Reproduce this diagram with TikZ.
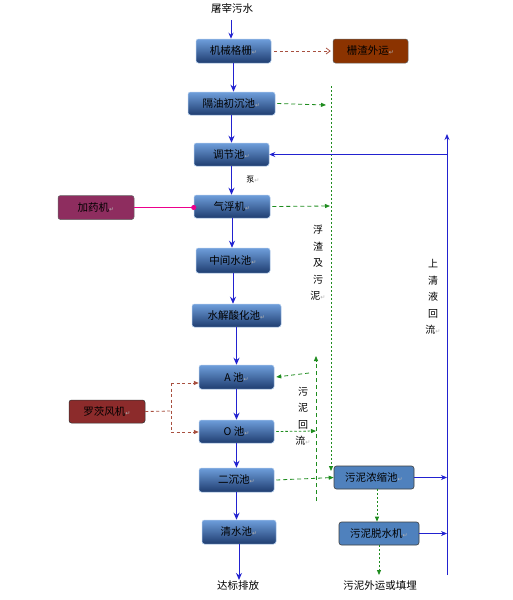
\documentclass[tikz,border=0pt]{standalone}
\usepackage{fontspec}
\setmainfont{Noto Sans CJK SC}
\newfontfamily\dvs{DejaVu Sans}
\usetikzlibrary{arrows.meta}
\definecolor{gboxtop}{HTML}{6E9EDB}
\definecolor{gboxbot}{HTML}{1F3D70}
\definecolor{gline}{HTML}{1E8C1E}
\definecolor{bline}{HTML}{2222D0}
\definecolor{brline}{HTML}{A85040}
\definecolor{flatblue}{HTML}{4F81BD}
\newcommand{\pmk}{{\dvs\color{black!30}\fontsize{6}{6}\selectfont ↵}}
\tikzset{
  mbox/.style={rectangle, rounded corners=2.5pt, top color=gboxtop, bottom color=gboxbot,
    draw=gboxtop!60!white, line width=0.5pt, inner sep=0pt, font=\fontsize{10.5}{12}\selectfont},
  fbox/.style={rectangle, rounded corners=2.5pt, fill=flatblue, draw=black!75, line width=0.6pt,
    inner sep=0pt, font=\fontsize{10.5}{12}\selectfont},
  sbox/.style={rectangle, rounded corners=2.5pt, draw=black!60, line width=0.5pt,
    inner sep=0pt, font=\fontsize{10.5}{12}\selectfont},
  lbl/.style={font=\fontsize{10.5}{12}\selectfont, inner sep=1pt},
  vlbl/.style={font=\fontsize{10}{16.5}\selectfont, align=center, inner sep=0pt},
  flow/.style={draw=bline, line width=0.9pt, -{Stealth[length=7pt,width=6pt]}},
  bflow/.style={draw=bline, line width=0.8pt, -{Stealth[length=6pt,width=5pt]}},
  gdash/.style={draw=gline, line width=0.8pt, dash pattern=on 4pt off 3pt, -{Triangle[length=5pt,width=4pt]}},
  gdot/.style={draw=gline, line width=0.8pt, dash pattern=on 2pt off 2pt},
  brdash/.style={draw=brline, line width=0.8pt, dash pattern=on 3pt off 2.5pt},
}
\begin{document}
\begin{tikzpicture}[x=1pt,y=-1pt]
\useasboundingbox[fill=white] (0,0) rectangle (512,600);
% main chain
\node[mbox, minimum width=75pt, minimum height=24pt] (n1) at (233.5,51) {机械格栅\pmk};
\node[mbox, minimum width=87pt, minimum height=23pt] (n2) at (231.5,103.5) {隔油初沉池\pmk};
\node[mbox, minimum width=75pt, minimum height=23pt] (n3) at (231.5,154.5) {调节池\pmk};
\node[mbox, minimum width=76pt, minimum height=23pt] (n4) at (232,206.5) {气浮机\pmk};
\node[mbox, minimum width=74pt, minimum height=25pt] (n5) at (233,260.5) {中间水池\pmk};
\node[mbox, minimum width=89pt, minimum height=23pt] (n6) at (236.5,315.5) {水解酸化池\pmk};
\node[mbox, minimum width=75pt, minimum height=24pt] (n7) at (236.5,377) {A 池\pmk};
\node[mbox, minimum width=75pt, minimum height=23pt] (n8) at (236.5,431.5) {O 池\pmk};
\node[mbox, minimum width=75pt, minimum height=24pt] (n9) at (236.5,480) {二沉池\pmk};
\node[mbox, minimum width=74pt, minimum height=24pt] (n10) at (239,532) {清水池\pmk};
% side boxes
\node[sbox, fill={rgb,255:red,139;green,51;blue,0}, minimum width=75pt, minimum height=24pt] (s1) at (370.5,51) {栅渣外运\pmk};
\node[sbox, fill={rgb,255:red,142;green,45;blue,95}, minimum width=76pt, minimum height=24pt] (s2) at (96,207.5) {加药机\pmk};
\node[sbox, fill={rgb,255:red,140;green,43;blue,43}, draw=black!80, minimum width=76pt, minimum height=23pt] (s3) at (107,411.5) {罗茨风机\pmk};
\node[fbox, minimum width=80pt, minimum height=23pt] (c1) at (374,477.5) {污泥浓缩池\pmk};
\node[fbox, minimum width=80pt, minimum height=23pt] (c2) at (379,533.5) {污泥脱水机\pmk};
% labels
\node[lbl] (src) at (232,8) {屠宰污水};
\node[lbl] (out1) at (238,586) {达标排放};
\node[lbl] (out2) at (380,586) {污泥外运或填埋};
\node[font=\fontsize{8}{9}\selectfont, inner sep=0pt] (pump) at (253,180) {泵\pmk};
\node[vlbl] (t1) at (318,263) {浮\\渣\\及\\污\\泥\pmk};
\node[vlbl] (t2) at (433,297) {上\\清\\液\\回\\流\pmk};
\node[vlbl] (t3) at (303,416) {污\\泥\\回\\流\pmk};
% coordinates
\coordinate (src0) at (231,20);
\coordinate (g2) at (326,105);
\coordinate (g4) at (330,206);
\coordinate (gvtop) at (331,86);
\coordinate (gvbot) at (331,471);
\coordinate (r1) at (309,373);
\coordinate (rtop) at (316,356);
\coordinate (rbot) at (316,501);
\coordinate (g8) at (316,431);
\coordinate (bvtop) at (447,134);
\coordinate (bvbot) at (447,575);
\coordinate (bj) at (171,411);
\coordinate (bjA) at (171,383);
\coordinate (bjO) at (171,432);
\coordinate (sl) at (379,575);
% main flow
\draw[bflow] (src0) -- (src0 |- n1.north);
\draw[flow] (n1.south) -- (n1.south |- n2.north);
\draw[flow] (n2.south) -- (n2.south |- n3.north);
\draw[flow] (n3.south) -- (n3.south |- n4.north);
\draw[flow] (n4.south) -- (n4.south |- n5.north);
\draw[flow] (n5.south) -- (n5.south |- n6.north);
\draw[flow] (n6.south) -- (n6.south |- n7.north);
\draw[flow] (n7.south) -- (n7.south |- n8.north);
\draw[flow] (n8.south) -- (n8.south |- n9.north);
\draw[flow] (n9.south) -- (n9.south |- n10.north);
\draw[flow] (n10.south) -- (n10.south |- out1.north);
% screen residue
\draw[brdash, -{Straight Barb[length=4pt,width=6pt]}] (n1.east) ++(3,0) -- ([xshift=-2pt]s1.west);
% dosing
\draw[magenta, line width=0.8pt] (s2.east) -- (n4.west |- s2.east);
\fill[magenta] (n4.west |- s2.east) circle (2.6pt);
% blower
\draw[brdash] (s3.east) -- (bj);
\draw[brdash] (bjA) -- (bjO);
\draw[brdash, -{Triangle[length=5pt,width=4pt]}] (bjA) -- (n7.west |- bjA);
\draw[brdash, -{Triangle[length=5pt,width=4pt]}] (bjO) -- (n8.west |- bjO);
% green sludge lines
\draw[gdash] ([xshift=2pt]n2.east) -- (g2);
\draw[gdash] ([xshift=2pt]n4.east) -- (g4);
\draw[gdot, -{Triangle[length=5pt,width=4pt]}] (gvtop) -- (gvbot);
\draw[gdash] ([xshift=2pt]n9.east) -- (c1.west);
\draw[gdash] (r1) -- ([xshift=2pt]n7.east);
\draw[gdash] (rbot) -- (rtop);
\draw[gdash, dash pattern=on 2.5pt off 2pt] ([xshift=2pt]n8.east) -- (g8);
\draw[gdot, -{Triangle[length=5pt,width=4pt]}] (c1.south) ++(3,0) -- ([xshift=3pt]c1.south |- c2.north);
\draw[gdot, -{Triangle[length=5pt,width=4pt]}] (c2.south) -- (sl);
% supernatant return
\draw[bflow, line width=0.9pt] (bvbot) -- (bvtop);
\draw[bflow] (bvtop |- n3.east) -- (n3.east);
\draw[bflow] (c1.east) -- (bvtop |- c1.east);
\draw[bflow] (c2.east) -- (bvtop |- c2.east);
\end{tikzpicture}
\end{document}
